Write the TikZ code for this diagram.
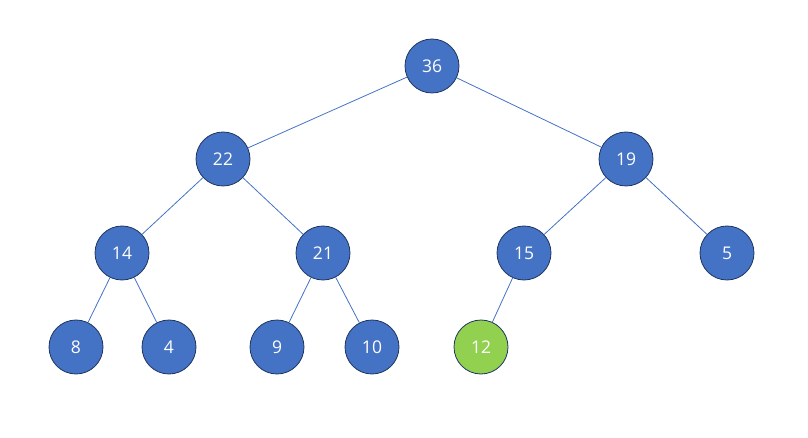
\documentclass[tikz,border=0pt]{standalone}
\usepackage{fontspec}
\setmainfont{Open Sans}
\definecolor{nodeblue}{HTML}{4472C4}
\definecolor{nodegreen}{HTML}{92D050}
\definecolor{rimblue}{HTML}{1F3560}
\begin{document}
\begin{tikzpicture}[x=1pt,y=-1pt,
  hnode/.style={circle,draw=rimblue,line width=0.8pt,fill=nodeblue,minimum size=54pt,inner sep=0pt,text=white,font=\fontsize{17.5}{19}\selectfont},
  gnode/.style={hnode,fill=nodegreen},
  edge/.style={draw=nodeblue,line width=0.8pt}]
\useasboundingbox (0,0) rectangle (808,438);
\node[hnode] (n36) at (432,66) {36};
\node[hnode] (n22) at (223,159) {22};
\node[hnode] (n19) at (626,159) {19};
\node[hnode] (n14) at (122,253) {14};
\node[hnode] (n21) at (323,253) {21};
\node[hnode] (n15) at (524,253) {15};
\node[hnode] (n5) at (727,253) {5};
\node[hnode] (n8) at (76,347) {8};
\node[hnode] (n4) at (169,347) {4};
\node[hnode] (n9) at (277,347) {9};
\node[hnode] (n10) at (372,347) {10};
\node[gnode] (n12) at (481,347) {12};
\draw[edge] (n36) -- (n22);
\draw[edge] (n36) -- (n19);
\draw[edge] (n22) -- (n14);
\draw[edge] (n22) -- (n21);
\draw[edge] (n19) -- (n15);
\draw[edge] (n19) -- (n5);
\draw[edge] (n14) -- (n8);
\draw[edge] (n14) -- (n4);
\draw[edge] (n21) -- (n9);
\draw[edge] (n21) -- (n10);
\draw[edge] (n15) -- (n12);
\end{tikzpicture}
\end{document}
